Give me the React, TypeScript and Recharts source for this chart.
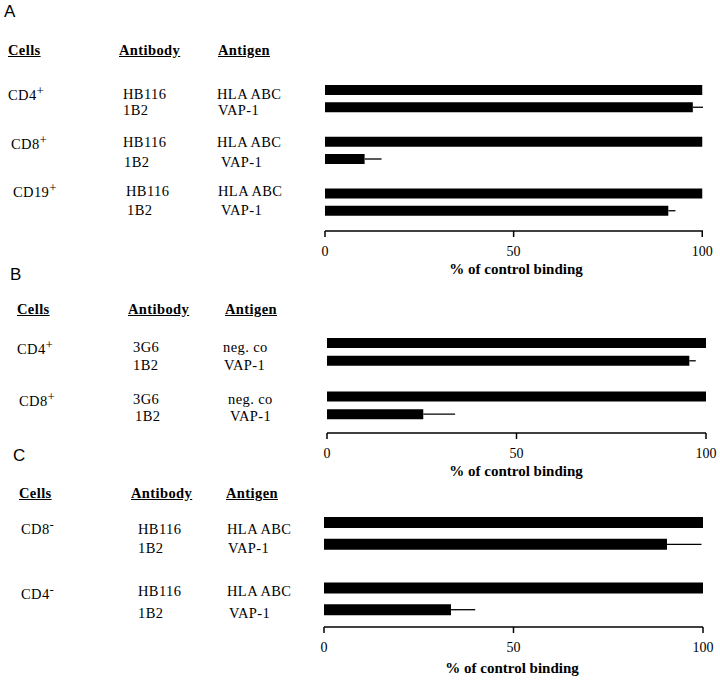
import { BarChart, Bar, XAxis, YAxis, ErrorBar } from "recharts"

// ---- data ----
const panelACells = ["CD4", "CD8", "CD19"]
const panelASigns = ["+", "+", "+"]
const panelAAntibodies = [["HB116", "1B2"], ["HB116", "1B2"], ["HB116", "1B2"]]
const panelAAntigens = [["HLA ABC", "VAP-1"], ["HLA ABC", "VAP-1"], ["HLA ABC", "VAP-1"]]
const panelAValues = [100, 97.5, 100, 10.5, 100, 91]
const panelAErrors = [0, 2.7, 0, 4.5, 0, 1.9]

const panelBCells = ["CD4", "CD8"]
const panelBSigns = ["+", "+"]
const panelBAntibodies = [["3G6", "1B2"], ["3G6", "1B2"]]
const panelBAntigens = [["neg. co", "VAP-1"], ["neg. co", "VAP-1"]]
const panelBValues = [100, 95.6, 100, 25.4]
const panelBErrors = [0, 1.7, 0, 8.4]

const panelCCells = ["CD8", "CD4"]
const panelCSigns = ["-", "-"]
const panelCAntibodies = [["HB116", "1B2"], ["HB116", "1B2"]]
const panelCAntigens = [["HLA ABC", "VAP-1"], ["HLA ABC", "VAP-1"]]
const panelCValues = [100, 90.5, 100, 33.5]
const panelCErrors = [0, 9.1, 0, 6.4]

const xTicks = [0, 50, 100]
const headers = ["Cells", "Antibody", "Antigen"]
const xLabel = "% of control binding"

type Row = { name: string; value: number; err: [number, number] }

// two bars per cell type, with an empty slot between groups
function buildRows(cells: string[], values: number[], errors: number[]): Row[] {
  const rows: Row[] = []
  cells.forEach((c, i) => {
    rows.push({ name: c + "-a", value: values[i * 2], err: [0, errors[i * 2]] })
    rows.push({ name: c + "-b", value: values[i * 2 + 1], err: [0, errors[i * 2 + 1]] })
    if (i < cells.length - 1) rows.push({ name: "gap" + i, value: 0, err: [0, 0] })
  })
  return rows
}

const serif = "'Liberation Serif', 'Times New Roman', serif"

function T({ x, y, children, bold, under }: any) {
  return (
    <div
      style={{
        position: "absolute",
        left: x,
        top: y - 7,
        lineHeight: "14px",
        fontSize: 14.5,
        letterSpacing: 0.4,
        fontWeight: bold ? 700 : 400,
        textDecoration: under ? "underline" : "none",
        whiteSpace: "nowrap",
      }}
    >
      {children}
    </div>
  )
}

function Panel({ p }: { p: any }) {
  const rows = buildRows(p.cells, p.values, p.errors)
  const c = p.chart
  const plotH = c.axisY - c.plotTop
  const height = 10 + plotH + 30 + 10
  return (
    <>
      <div
        style={{
          position: "absolute",
          left: p.letterX,
          top: p.letterY - 10,
          lineHeight: "20px",
          fontSize: 17,
          fontFamily: "'Liberation Sans', Arial, sans-serif",
        }}
      >
        {p.letter}
      </div>
      {headers.map((h, i) => (
        <T key={h} x={p.headerX[i]} y={p.headerY} bold under>
          {h}
        </T>
      ))}
      {p.cells.map((cell: string, i: number) => {
        const g = p.groups[i]
        return (
          <div key={cell}>
            <T x={g.cx} y={g.cy}>
              {cell}
              <span style={{ fontSize: 13, position: "relative", top: -5 }}>{p.signs[i]}</span>
            </T>
            <T x={g.abx} y={g.y1}>{p.antibodies[i][0]}</T>
            <T x={g.ab2x} y={g.y2}>{p.antibodies[i][1]}</T>
            <T x={g.agx} y={g.y1}>{p.antigens[i][0]}</T>
            <T x={g.ag2x} y={g.y2}>{p.antigens[i][1]}</T>
          </div>
        )
      })}
      <div style={{ position: "absolute", left: 300, top: c.plotTop - 10 }}>
        <BarChart
          width={420}
          height={height}
          data={rows}
          layout="vertical"
          margin={{ top: 10, left: c.x0 - 300, right: 420 - (c.x0 - 300) - c.w, bottom: 10 }}
        >
          <XAxis
            type="number"
            domain={[0, 100]}
            ticks={xTicks}
            height={30}
            stroke="#000"
            strokeWidth={1.5}
            tickSize={6}
            tickMargin={9}
            tick={{ fill: "#000", fontSize: 14, fontFamily: serif }}
          />
          <YAxis type="category" dataKey="name" hide width={0} padding={{ top: 0, bottom: c.padBottom }} />
          <Bar dataKey="value" fill="#000" barSize={c.barSize} isAnimationActive={false}>
            <ErrorBar dataKey="err" direction="x" width={0} stroke="#000" strokeWidth={1.3} />
          </Bar>
        </BarChart>
      </div>
      <div
        style={{
          position: "absolute",
          left: p.labelX - 120,
          width: 240,
          top: p.labelY - 7,
          lineHeight: "14px",
          textAlign: "center",
          fontSize: 15,
          fontWeight: 700,
        }}
      >
        {xLabel}
      </div>
    </>
  )
}

const panels = [
  {
    letter: "A",
    letterX: 4,
    letterY: 12,
    headerY: 50,
    headerX: [8, 119, 218],
    cells: panelACells,
    signs: panelASigns,
    antibodies: panelAAntibodies,
    antigens: panelAAntigens,
    values: panelAValues,
    errors: panelAErrors,
    groups: [
      { cx: 8, cy: 95, y1: 94, y2: 110, abx: 123, ab2x: 123, agx: 217, ag2x: 218 },
      { cx: 11, cy: 144, y1: 142, y2: 162, abx: 123, ab2x: 124, agx: 217, ag2x: 221 },
      { cx: 13, cy: 192, y1: 191, y2: 210, abx: 126, ab2x: 127, agx: 218, ag2x: 221 },
    ],
    chart: { plotTop: 81, axisY: 231, x0: 325, w: 378, padBottom: 12, barSize: 10 },
    labelX: 516,
    labelY: 269,
  },
  {
    letter: "B",
    letterX: 10,
    letterY: 275,
    headerY: 309,
    headerX: [17, 128, 225],
    cells: panelBCells,
    signs: panelBSigns,
    antibodies: panelBAntibodies,
    antigens: panelBAntigens,
    values: panelBValues,
    errors: panelBErrors,
    groups: [
      { cx: 17, cy: 349, y1: 347, y2: 365, abx: 133, ab2x: 133, agx: 223, ag2x: 224 },
      { cx: 19, cy: 401, y1: 399, y2: 416, abx: 133, ab2x: 135, agx: 228, ag2x: 230 },
    ],
    chart: { plotTop: 334, axisY: 433, x0: 327, w: 379, padBottom: 10, barSize: 10 },
    labelX: 516,
    labelY: 471,
  },
  {
    letter: "C",
    letterX: 13,
    letterY: 456,
    headerY: 493,
    headerX: [19, 131, 226],
    cells: panelCCells,
    signs: panelCSigns,
    antibodies: panelCAntibodies,
    antigens: panelCAntigens,
    values: panelCValues,
    errors: panelCErrors,
    groups: [
      { cx: 21, cy: 529, y1: 529, y2: 548, abx: 138, ab2x: 138, agx: 227, ag2x: 228 },
      { cx: 21, cy: 594, y1: 591, y2: 613, abx: 138, ab2x: 138, agx: 227, ag2x: 229 },
    ],
    chart: { plotTop: 512, axisY: 627, x0: 324, w: 379, padBottom: 6, barSize: 11 },
    labelX: 512,
    labelY: 668,
  },
]

export default function App() {
  return (
    <div
      style={{
        position: "absolute",
        left: 0,
        top: 0,
        width: 720,
        height: 680,
        background: "#fff",
        color: "#000",
        fontFamily: serif,
        overflow: "hidden",
      }}
    >
      {panels.map((p) => (
        <Panel key={p.letter} p={p} />
      ))}
    </div>
  )
}
